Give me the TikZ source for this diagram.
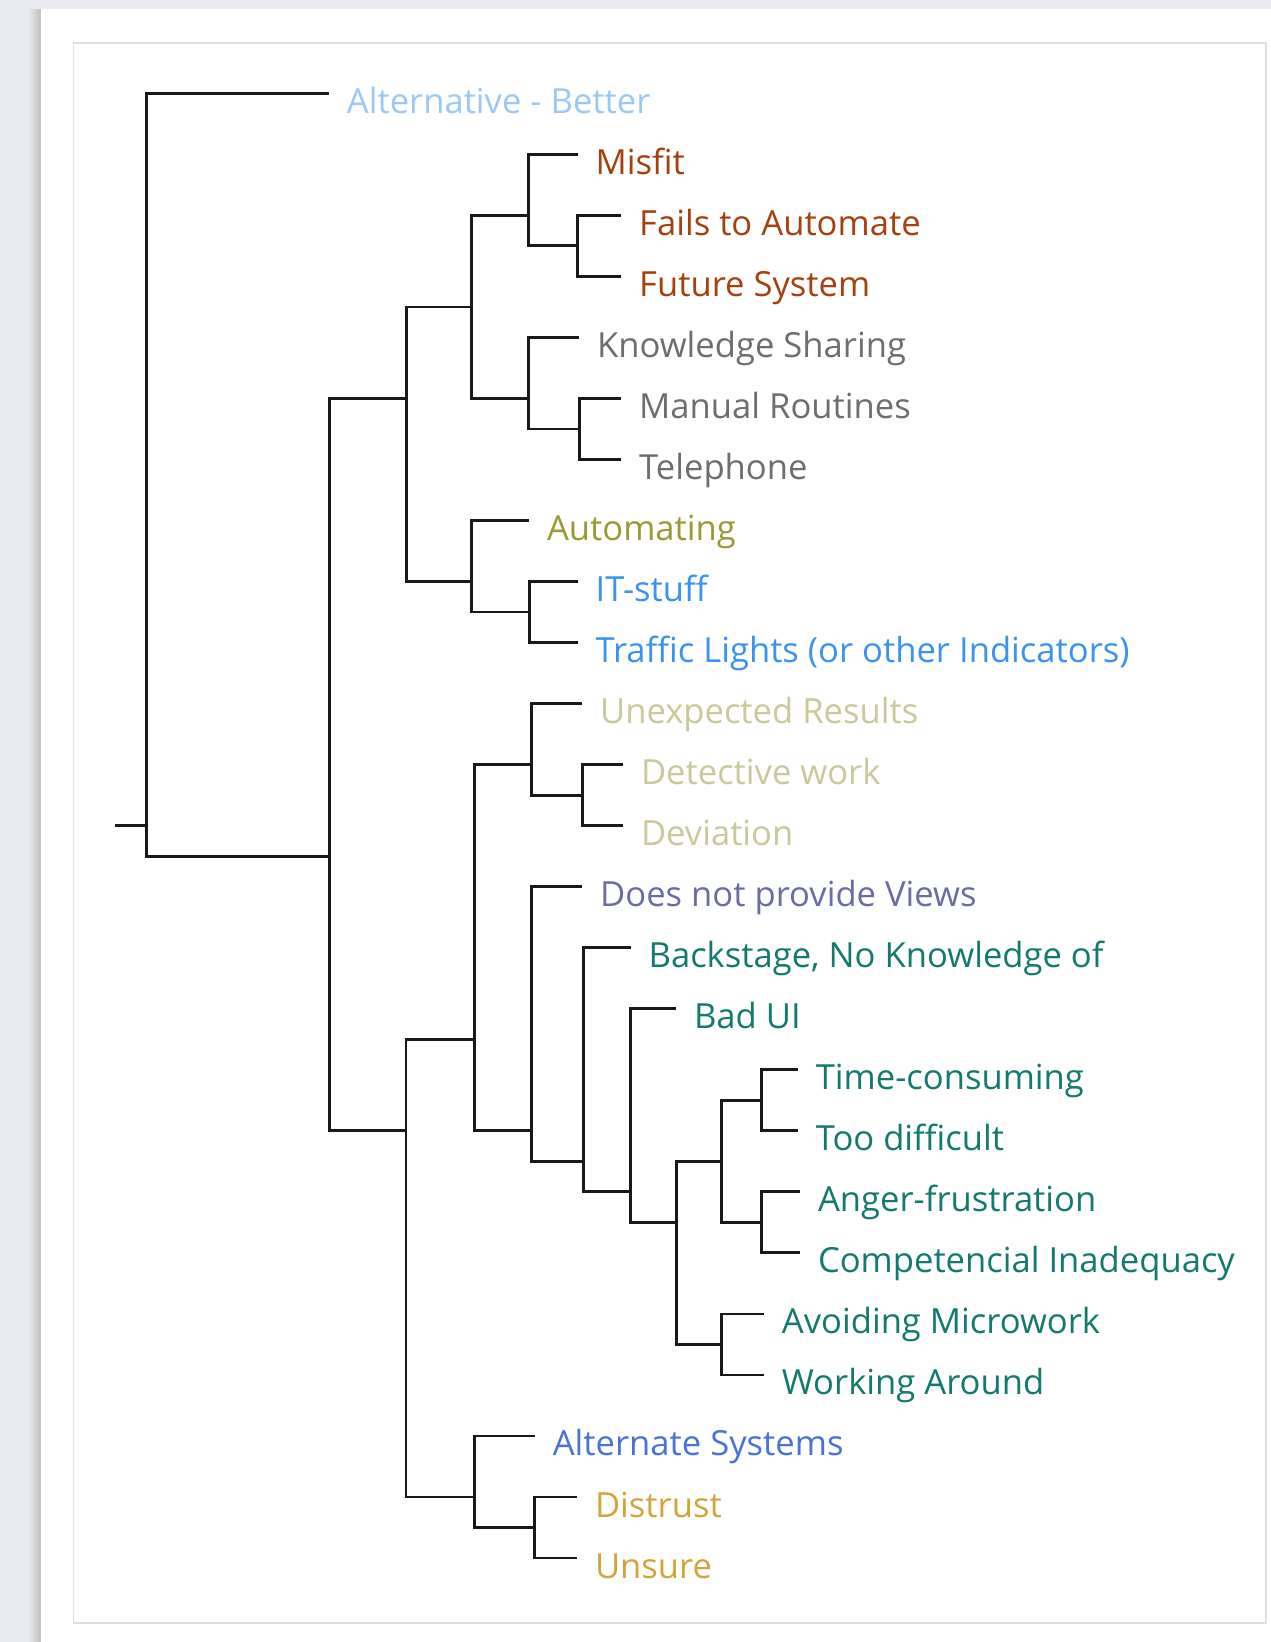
\documentclass[tikz,border=0pt]{standalone}
\usepackage{fontspec}
\setmainfont{Open Sans}
\definecolor{bgGray}{HTML}{E9EBF0}
\definecolor{frameGray}{HTML}{E0E0E0}
\definecolor{cBetter}{HTML}{9CC8F5}
\definecolor{cMisfit}{HTML}{A4410E}
\definecolor{cKnow}{HTML}{6E6E6E}
\definecolor{cAuto}{HTML}{9A9A35}
\definecolor{cIT}{HTML}{3A93F0}
\definecolor{cDetect}{HTML}{C9C99A}
\definecolor{cViews}{HTML}{6B6BA8}
\definecolor{cBack}{HTML}{127A6E}
\definecolor{cAltSys}{HTML}{4A72D8}
\definecolor{cDistrust}{HTML}{D4A33C}

\begin{document}
\begin{tikzpicture}[x=0.5pt, y=-30.515pt, shift={(0pt,-46.65pt)},
    leaf/.style={anchor=west, inner xsep=9pt, inner ysep=0pt, outer sep=0pt,
      text height=22pt, text depth=2pt, font=\fontsize{17.3}{20}\selectfont},
    link/.style={line width=1.4pt, draw=black!90},
    elbow/.style={to path={(\tikztostart) |- (\tikztotarget)}}]
  % page and frame
  \fill[bgGray] (0,-1.529) rectangle (1271,25.376);
  \shade[left color=bgGray, right color=black!25] (28,-1.381) rectangle (41,25.376);
  \fill[white] (41,-1.381) rectangle (1271,25.376);
  \draw[frameGray, line width=0.7pt] (73.5,-0.824) rectangle (1266,25.065);
  \useasboundingbox (0,-1.529) rectangle (1271,25.376);

  % junctions
  \coordinate (stub)      at (115,12);
  \coordinate (root)      at (146.7,12);
  \coordinate (core)      at (329.6,12.5);
  \coordinate (use)       at (406.2,5);
  \coordinate (fit)       at (471.2,3.5);
  \coordinate (misfitG)   at (528.6,2);
  \coordinate (failsG)    at (577.6,2.5);
  \coordinate (knowG)     at (528.6,5);
  \coordinate (manualG)   at (579.1,5.5);
  \coordinate (autoG)     at (471.4,8);
  \coordinate (itG)       at (529.1,8.5);
  \coordinate (issues)    at (406,17);
  \coordinate (probG)     at (474.5,15.5);
  \coordinate (unexpG)    at (531.6,11);
  \coordinate (detectG)   at (582.1,11.5);
  \coordinate (viewsG)    at (531.7,17);
  \coordinate (backG)     at (583.3,17.5);
  \coordinate (baduiG)    at (630.6,18);
  \coordinate (effortG)   at (676.1,18.5);
  \coordinate (timeG)     at (721.1,17.5);
  \coordinate (timeP)     at (761.7,16.5);
  \coordinate (angerP)    at (761.7,18.5);
  \coordinate (avoidG)    at (721.1,20.5);
  \coordinate (altG)      at (474.1,23);
  \coordinate (distrustG) at (534.8,23.5);

  % leaves
  \node[leaf, text=cBetter]   (better)     at (328.9,0)  {Alternative - Better};
  \node[leaf, text=cMisfit]   (misfit)     at (577.6,1)  {Misfit};
  \node[leaf, text=cMisfit]   (fails)      at (621.2,2)  {Fails to Automate};
  \node[leaf, text=cMisfit]   (future)     at (621.2,3)  {Future System};
  \node[leaf, text=cKnow]     (knowledge)  at (579.1,4)  {Knowledge Sharing};
  \node[leaf, text=cKnow]     (manual)     at (621.2,5)  {Manual Routines};
  \node[leaf, text=cKnow]     (telephone)  at (621.2,6)  {Telephone};
  \node[leaf, text=cAuto]     (automating) at (529,7)    {Automating};
  \node[leaf, text=cIT]       (itstuff)    at (577.6,8)  {IT-stuff};
  \node[leaf, text=cIT]       (traffic)    at (577.6,9)  {Traffic Lights (or other Indicators)};
  \node[leaf, text=cDetect]   (unexpected) at (582.1,10) {Unexpected Results};
  \node[leaf, text=cDetect]   (detective)  at (623,11)   {Detective work};
  \node[leaf, text=cDetect]   (deviation)  at (623,12)   {Deviation};
  \node[leaf, text=cViews]    (views)      at (582.2,13) {Does not provide Views};
  \node[leaf, text=cBack]     (backstage)  at (630.6,14) {Backstage, No Knowledge of};
  \node[leaf, text=cBack]     (badui)      at (676,15)   {Bad UI};
  \node[leaf, text=cBack]     (timecons)   at (797.8,16) {Time-consuming};
  \node[leaf, text=cBack]     (toodiff)    at (797.8,17) {Too difficult};
  \node[leaf, text=cBack]     (anger)      at (800,18)   {Anger-frustration};
  \node[leaf, text=cBack]     (compet)     at (800,19)   {Competencial Inadequacy};
  \node[leaf, text=cBack]     (avoiding)   at (763.9,20) {Avoiding Microwork};
  \node[leaf, text=cBack]     (working)    at (763.9,21) {Working Around};
  \node[leaf, text=cAltSys]   (altsys)     at (534.8,22) {Alternate Systems};
  \node[leaf, text=cDistrust] (distrust)   at (577,23)   {Distrust};
  \node[leaf, text=cDistrust] (unsure)     at (577,24)   {Unsure};

  % branches
  \draw[link] (stub) -- (root);
  \foreach \p/\c in {root/core, core/use, core/issues, use/fit, use/autoG,
      fit/misfitG, fit/knowG, misfitG/failsG, knowG/manualG, autoG/itG,
      issues/probG, issues/altG, probG/unexpG, probG/viewsG, unexpG/detectG,
      viewsG/backG, backG/baduiG, baduiG/effortG, effortG/timeG, effortG/avoidG,
      timeG/timeP, timeG/angerP, altG/distrustG}
    \path[link] (\p) edge[elbow] (\c);
  \foreach \p/\c in {root/better, misfitG/misfit, failsG/fails, failsG/future,
      knowG/knowledge, manualG/manual, manualG/telephone, autoG/automating,
      itG/itstuff, itG/traffic, unexpG/unexpected, detectG/detective,
      detectG/deviation, viewsG/views, backG/backstage, baduiG/badui,
      timeP/timecons, timeP/toodiff, angerP/anger, angerP/compet,
      avoidG/avoiding, avoidG/working, altG/altsys, distrustG/distrust,
      distrustG/unsure}
    \path[link] (\p) edge[elbow] (\c.west);
\end{tikzpicture}
\end{document}
